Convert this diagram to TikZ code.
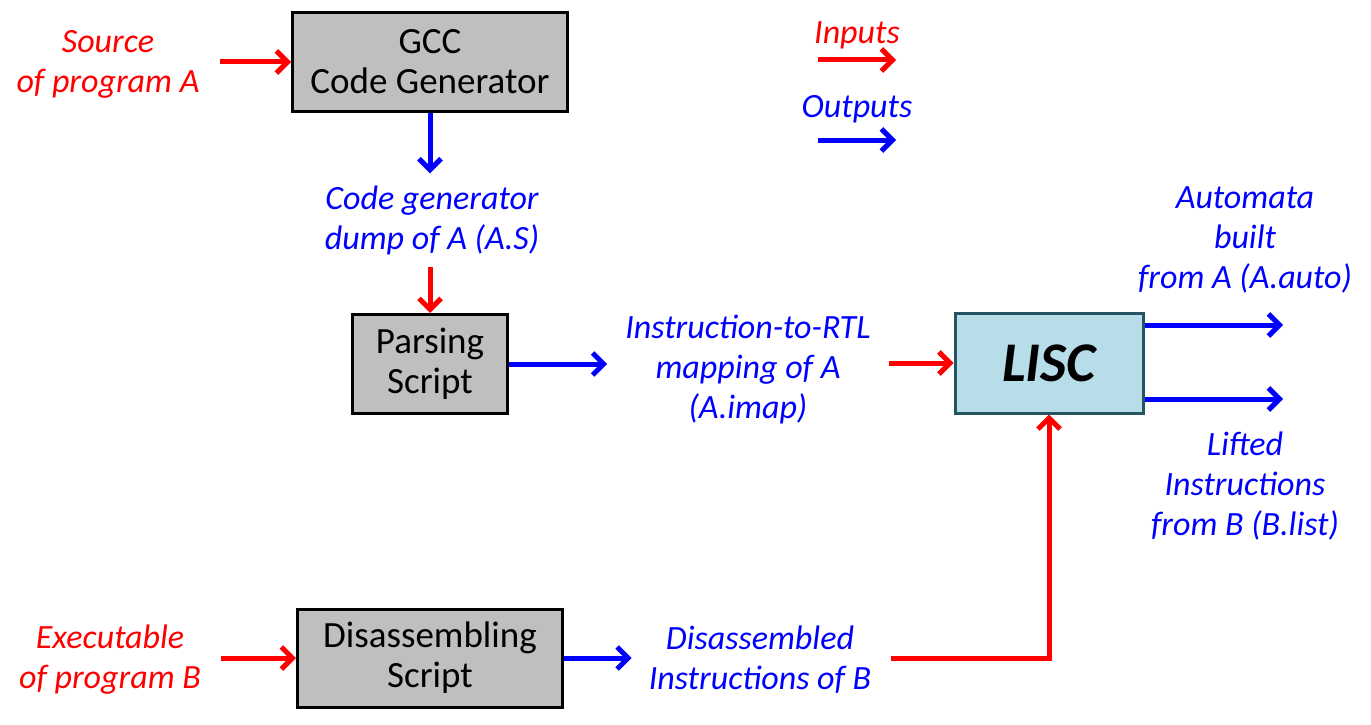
\documentclass[tikz,border=0pt]{standalone}
\usepackage{fontspec}
\setmainfont{Carlito}
\usetikzlibrary{arrows.meta}
\definecolor{liscfill}{RGB}{183,221,232}
\definecolor{liscline}{RGB}{37,85,98}

\begin{document}
\begin{tikzpicture}[x=1pt,y=-1pt,
  every node/.style={font=\fontsize{37}{40}\selectfont},
  box/.style={draw=black, line width=3pt, fill=black!25, align=center},
  inarr/.style={red, line width=5pt, -{Straight Barb[length=11pt,width=22pt]}},
  outarr/.style={blue, line width=5pt, -{Straight Barb[length=11pt,width=22pt]}},
  intxt/.style={red, align=center, inner sep=0pt, font=\fontsize{34}{40}\selectfont\itshape},
  outtxt/.style={blue, align=center, inner sep=0pt, font=\fontsize{34}{40}\selectfont\itshape}]
 \useasboundingbox (0,0) rectangle (1371,725);

 % boxes
 \node[box, minimum width=275pt, minimum height=99pt] (gcc) at (430,62) {GCC\\Code Generator};
 \node[box, minimum width=155pt, minimum height=99pt] (parse) at (430,364) {Parsing\\Script};
 \node[box, minimum width=265pt, minimum height=98pt] (disasm) at (430,658) {Disassembling\\Script};
 \node[draw=liscline, line width=3pt, fill=liscfill, minimum width=188pt, minimum height=100pt,
   font=\fontsize{56}{60}\selectfont\bfseries\itshape] (lisc) at (1049,363) {LISC};

 % texts
 \node[intxt] (src) at (108,64) {Source\\of program A};
 \node[intxt] (exe) at (110,660) {Executable\\of program B};
 \node[outtxt] (cgdump) at (432,220) {Code generator\\dump of A (A.S)};
 \node[outtxt] (imap) at (748,369) {Instruction-to-RTL\\mapping of A\\(A.imap)};
 \node[outtxt] (dis) at (760,660) {Disassembled\\Instructions of B};
 \node[outtxt] (auto) at (1245,240) {Automata\\built\\from A (A.auto)};
 \node[outtxt] (lifted) at (1245,486) {Lifted\\Instructions\\from B (B.list)};

 % legend
 \node[intxt] (inputs) at (857,35) {Inputs};
 \node[outtxt] (outputs) at (857,109) {Outputs};
 \coordinate (in1) at (818,60);
 \coordinate (in2) at (896,60);
 \coordinate (out1) at (818,140);
 \coordinate (out2) at (896,140);
 \draw[inarr] (in1)--(in2);
 \draw[outarr] (out1)--(out2);

 % flow
 \draw[inarr] (src.east |- gcc.west) ++(20,0) -- (gcc.west);
 \draw[outarr, shorten >=12pt] (gcc.south)--(gcc.south |- cgdump.north);
 \draw[inarr, shorten <=12pt] (parse.north |- cgdump.south)--(parse.north);
 \draw[outarr, shorten >=18pt] (parse.east)--(imap.west |- parse.east);
 \draw[inarr, shorten <=18pt] (imap.east |- lisc.west)--(lisc.west);
 \coordinate (o1) at (1283,325);
 \coordinate (o2) at (1283,399);
 \draw[outarr] (lisc.east |- o1)--(o1);
 \draw[outarr] (lisc.east |- o2)--(o2);
 \draw[inarr] (exe.east |- disasm.west) ++(20,0) -- (disasm.west);
 \draw[outarr, shorten >=17pt] (disasm.east)--(dis.west |- disasm.east);
 \draw[inarr, shorten <=20pt] (dis.east |- disasm.east) -| (lisc.south);
\end{tikzpicture}
\end{document}
